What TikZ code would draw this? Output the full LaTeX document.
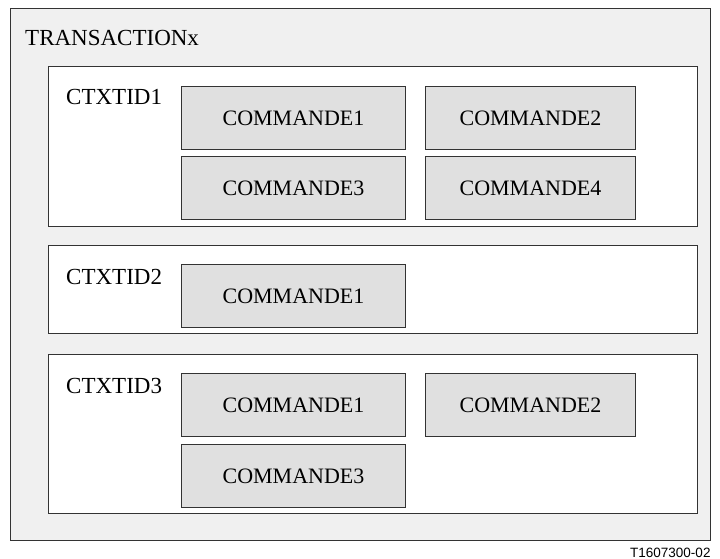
\documentclass[tikz,border=0pt]{standalone}
\usepackage{fontspec}
\setmainfont{Liberation Serif}
\newfontfamily\reffont{Liberation Sans}
\usetikzlibrary{positioning}

\begin{document}
\begin{tikzpicture}[x=1pt,y=-1pt,
    outerbox/.style={draw=black!80, fill=black!6, line width=1pt, anchor=north west, minimum width=700pt, minimum height=532pt, inner sep=0pt},
    ctxbox/.style={draw=black!80, fill=white, line width=1pt, anchor=north west, minimum width=649pt, inner sep=0pt},
    cmdbox/.style={draw=black!80, fill=black!12, line width=1pt, minimum width=224pt, minimum height=63pt, inner sep=0pt, font=\fontsize{22}{24}\selectfont},
    cmdnarrow/.style={cmdbox, minimum width=210pt},
    title/.style={anchor=base west, inner sep=0pt, font=\fontsize{23}{26}\selectfont}]
    \useasboundingbox (0,0) rectangle (720,559);
    %Outer transaction
    \node[outerbox] (trans) at (10,8) {};
    \node[title] (transtxt) at (25,46) {TRANSACTIONx};
    %Contexts
    \node[ctxbox, minimum height=160pt] (ctx1) at (48,66) {};
    \node[ctxbox, minimum height=88pt]  (ctx2) at (48,245) {};
    \node[ctxbox, minimum height=159pt] (ctx3) at (48,354) {};
    \node[title] (ctx1txt) at (66,105) {CTXTID1};
    \node[title] (ctx2txt) at (66,284) {CTXTID2};
    \node[title] (ctx3txt) at (66,393) {CTXTID3};
    %Commands of CTXTID1
    \node[cmdbox, anchor=north west] (c1a) at (181,86) {COMMANDE1};
    \node[cmdnarrow] (c1b) [right=19pt of c1a] {COMMANDE2};
    \node[cmdbox]    (c1c) [below=6pt of c1a]  {COMMANDE3};
    \node[cmdnarrow] (c1d) [below=6pt of c1b]  {COMMANDE4};
    %Commands of CTXTID2
    \node[cmdbox, anchor=north west] (c2a) at (181,264) {COMMANDE1};
    %Commands of CTXTID3
    \node[cmdbox, anchor=north west] (c3a) at (181,373) {COMMANDE1};
    \node[cmdnarrow] (c3b) [right=19pt of c3a] {COMMANDE2};
    \node[cmdbox]    (c3c) [below=7pt of c3a]  {COMMANDE3};
    %Reference
    \node[anchor=base west, inner sep=0pt, font=\reffont\fontsize{13.5}{16}\selectfont] (ref) at (630,557) {T1607300-02};
\end{tikzpicture}
\end{document}
